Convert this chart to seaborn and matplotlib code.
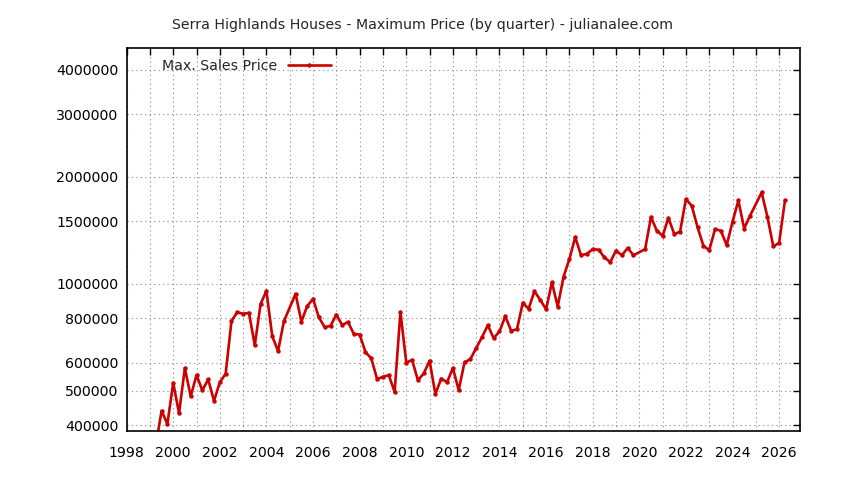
import numpy as np
import pandas as pd
import matplotlib
matplotlib.use("Agg")
import matplotlib.pyplot as plt
import seaborn as sns

# quarterly max sales price (decimal year, price)
years = [1999.25, 1999.5, 1999.75,
         2000.0, 2000.25, 2000.5, 2000.75,
         2001.0, 2001.25, 2001.5, 2001.75,
         2002.0, 2002.25, 2002.5, 2002.75,
         2003.0, 2003.25, 2003.5, 2003.75,
         2004.0, 2004.25, 2004.5, 2004.75,
         2005.25, 2005.5, 2005.75,
         2006.0, 2006.25, 2006.5, 2006.75,
         2007.0, 2007.25, 2007.5, 2007.75,
         2008.0, 2008.25, 2008.5, 2008.75,
         2009.0, 2009.25, 2009.5, 2009.75,
         2010.0, 2010.25, 2010.5, 2010.75,
         2011.0, 2011.25, 2011.5, 2011.75,
         2012.0, 2012.25, 2012.5, 2012.75,
         2013.0, 2013.25, 2013.5, 2013.75,
         2014.0, 2014.25, 2014.5, 2014.75,
         2015.0, 2015.25, 2015.5, 2015.75,
         2016.0, 2016.25, 2016.5, 2016.75,
         2017.0, 2017.25, 2017.5, 2017.75,
         2018.0, 2018.25, 2018.5, 2018.75,
         2019.0, 2019.25, 2019.5, 2019.75,
         2020.25, 2020.5, 2020.75,
         2021.0, 2021.25, 2021.5, 2021.75,
         2022.0, 2022.25, 2022.5, 2022.75,
         2023.0, 2023.25, 2023.5, 2023.75,
         2024.0, 2024.25, 2024.5, 2024.75,
         2025.25, 2025.5, 2025.75,
         2026.0, 2026.25]

max_price = [349000, 439000, 403000,
             526000, 432000, 579000, 482000,
             553000, 501000, 538000, 468000,
             528000, 558000, 785000, 832000,
             822000, 828000, 671000, 877000,
             954000, 711000, 646000, 784000,
             936000, 782000, 865000,
             906000, 804000, 754000, 761000,
             818000, 765000, 780000, 722000,
             719000, 642000, 616000, 539000,
             547000, 553000, 496000, 832000,
             600000, 610000, 535000, 559000,
             607000, 489000, 541000, 528000,
             579000, 502000, 601000, 613000,
             659000, 707000, 764000, 702000,
             734000, 810000, 737000, 744000,
             883000, 850000, 952000, 900000,
             847000, 1008000, 862000, 1047000,
             1172000, 1351000, 1202000, 1213000,
             1250000, 1246000, 1187000, 1149000,
             1239000, 1202000, 1259000, 1202000,
             1250000, 1540000, 1410000,
             1363000, 1531000, 1378000, 1401000,
             1729000, 1656000, 1441000, 1278000,
             1242000, 1423000, 1408000, 1283000,
             1492000, 1714000, 1429000, 1552000,
             1805000, 1538000, 1272000,
             1303000, 1714000]

y_ticks = [400000, 500000, 600000, 800000, 1000000, 1500000, 2000000, 3000000, 4000000]
x_labels = list(range(1998, 2027, 2))

df = pd.DataFrame({"year": years, "price": max_price})

sns.set_style("white")
plt.rcParams["font.family"] = ["DejaVu Sans"]

fig = plt.figure(figsize=(8.44, 4.8), dpi=100)
ax = fig.add_axes([0.150, 0.102, 0.798, 0.798])

red = "#cc0000"
sns.lineplot(data=df, x="year", y="price", ax=ax, color=red, linewidth=1.9,
             marker="o", markersize=3.2, markeredgewidth=0, label="Max. Sales Price")

ax.set_yscale("log")
ax.set_ylim(385000, 4600000)
ax.set_xlim(1998, 2026.9)

ax.set_yticks(y_ticks)
ax.set_yticklabels([str(v) for v in y_ticks])
ax.yaxis.set_minor_locator(matplotlib.ticker.NullLocator())
ax.set_xticks(x_labels)
ax.set_xticklabels([str(v) for v in x_labels])
ax.set_xticks(list(range(1999, 2027, 2)), minor=True)

ax.grid(True, which="both", axis="x", color="#888888", linestyle=(0, (1, 3)), linewidth=0.8)
ax.grid(True, which="major", axis="y", color="#888888", linestyle=(0, (1, 3)), linewidth=0.8)

ax.tick_params(axis="both", which="both", direction="in", top=True, right=True,
               length=5, width=1, labelsize=10.2, colors="black")
ax.tick_params(axis="y", pad=6)
ax.tick_params(axis="x", pad=10.5)
for s in ax.spines.values():
    s.set_linewidth(1.2)
    s.set_color("black")

ax.set_xlabel("")
ax.set_ylabel("")
fig.suptitle("Serra Highlands Houses - Maximum Price (by quarter) - julianalee.com",
             fontsize=10.2, x=0.5, y=0.962)

ax.legend(loc="upper left", frameon=False, markerfirst=False, fontsize=10.2,
          handlelength=3, bbox_to_anchor=(0.035, 1.0), borderaxespad=0.4)

fig.savefig("out.png", dpi=100)
